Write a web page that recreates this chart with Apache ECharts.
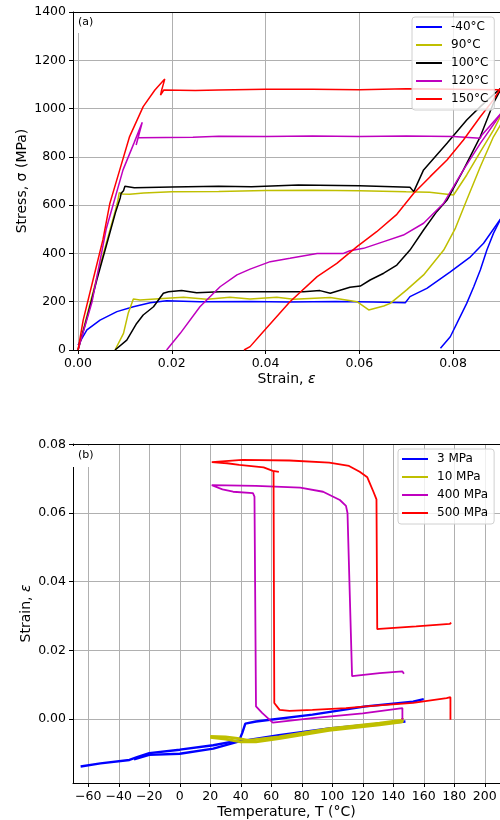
<!DOCTYPE html>
<html>
<head>
<meta charset="utf-8">
<script src="https://cdn.jsdelivr.net/npm/echarts@6/dist/echarts.min.js"></script>
<style>
  html, body { margin: 0; background: #fff; }
  #chart { width: 500px; height: 820px; }
</style>
</head>
<body>
<div id="chart"></div>
<script>
// (a) stress-strain curves, [strain, stress MPa]
const tempNames = ['-40°C', '90°C', '100°C', '120°C', '150°C'];
const tempColors = ['#0000ff', '#bfbf00', '#000000', '#bf00bf', '#ff0000'];

const m40Load = [[0,20],[0.0019,83],[0.0047,124],[0.0083,159],[0.0118,179],[0.0154,196],[0.0189,204],[0.026,200],[0.0367,201],[0.045,199],[0.055,201],[0.063,199],[0.0698,196],[0.0708,221],[0.0744,255],[0.0794,324],[0.0837,386],[0.0865,442],[0.0897,531],[0.0902,545]];
const m40Unload = [[0.0902,545],[0.0886,483],[0.0872,414],[0.0858,331],[0.0844,262],[0.0829,193],[0.0808,110],[0.0794,55],[0.0773,7]];

const t90High = [[0,0],[0.002,150],[0.004,300],[0.006,440],[0.008,580],[0.0085,620],[0.0088,652],[0.0095,646],[0.011,645],[0.014,650],[0.02,655],[0.03,657],[0.04,661],[0.05,662],[0.06,660],[0.07,655],[0.075,653],[0.0801,642],[0.0829,725],[0.0858,821],[0.0886,911],[0.0899,960],[0.0906,985]];
const t90Low = [[0.0079,0],[0.0097,69],[0.0107,152],[0.0118,211],[0.0132,207],[0.0189,214],[0.0225,218],[0.0275,210],[0.0324,218],[0.0367,211],[0.0424,218],[0.046,210],[0.0538,217],[0.0595,200],[0.062,166],[0.0652,182],[0.0666,193],[0.0701,249],[0.0737,311],[0.078,414],[0.0805,505],[0.0829,621],[0.0858,759],[0.0886,883],[0.0899,925],[0.0906,950]];

const t100High = [[0,0],[0.002,140],[0.004,290],[0.006,430],[0.008,570],[0.009,630],[0.0092,649],[0.0097,660],[0.01,678],[0.0102,670],[0.012,672],[0.02,675],[0.03,678],[0.037,676],[0.047,683],[0.06,680],[0.0708,674],[0.0716,656],[0.0737,746],[0.0787,856],[0.0829,953],[0.0858,1008],[0.0897,1077],[0.0906,1092]];
const t100Low = [[0.0079,0],[0.0104,41],[0.0125,110],[0.0139,145],[0.0161,179],[0.0182,235],[0.0193,241],[0.0221,246],[0.0253,237],[0.0303,241],[0.0367,241],[0.0481,241],[0.0516,246],[0.0538,235],[0.058,260],[0.0602,265],[0.0623,290],[0.0652,318],[0.068,352],[0.0708,414],[0.0737,497],[0.0765,573],[0.0787,621],[0.0822,746],[0.0858,884],[0.0886,1022],[0.0897,1063],[0.0906,1090]];

const t120High = [[0,0],[0.003,200],[0.006,500],[0.0096,746],[0.012,860],[0.0137,943],[0.0124,849],[0.0128,879],[0.0245,881],[0.03,885],[0.04,884],[0.05,886],[0.06,884],[0.07,886],[0.08,884],[0.0858,877],[0.0861,890],[0.0899,973],[0.0906,990]];
const t120Low = [[0.0189,0],[0.0218,69],[0.026,179],[0.0303,262],[0.0339,311],[0.0367,335],[0.041,366],[0.0452,380],[0.051,400],[0.0566,400],[0.058,411],[0.0609,421],[0.0652,449],[0.0694,476],[0.0737,525],[0.078,608],[0.0822,746],[0.0858,856],[0.0893,953],[0.0906,990]];

const t150High = [[0,0],[0.0011,124],[0.0032,290],[0.0053,456],[0.0068,608],[0.0089,746],[0.011,884],[0.0139,1008],[0.0164,1077],[0.0185,1122],[0.0178,1074],[0.0176,1056],[0.0183,1077],[0.025,1075],[0.03,1077],[0.04,1080],[0.05,1080],[0.06,1078],[0.07,1082],[0.08,1080],[0.09,1078]];
const t150Low = [[0.0354,0],[0.0367,14],[0.0395,76],[0.0452,200],[0.051,304],[0.0552,359],[0.0595,428],[0.0637,490],[0.068,562],[0.0716,649],[0.0751,718],[0.0787,787],[0.0822,870],[0.0858,966],[0.0886,1036],[0.0899,1077],[0.0906,1092]];

// (b) strain-temperature curves, [T °C, strain]
const loadNames = ['3 MPa', '10 MPa', '400 MPa', '500 MPa'];
const loadColors = ['#0000ff', '#bfbf00', '#bf00bf', '#ff0000'];

const p3Upper = [[-65,-0.0138],[-52,-0.0129],[-33,-0.0119],[-28,-0.0111],[-20,-0.0099],[0,-0.0089],[22,-0.0076],[39,-0.0062],[41,-0.004],[43,-0.0013],[50,-0.0007],[87,0.0013],[122,0.0037],[153,0.0051],[160,0.0058]];
const p3Lower = [[-30,-0.0117],[-20,-0.0104],[0,-0.0101],[22,-0.0086],[39,-0.0065],[65,-0.0047],[98,-0.0027],[131,-0.0013],[148,-0.0007]];

const p10Upper = [[20,-0.005],[30,-0.0052],[38,-0.0056],[45,-0.0062],[65,-0.0052],[98,-0.0028],[131,-0.0012],[146,-0.0003]];
const p10Lower = [[20,-0.0053],[30,-0.0058],[40,-0.0066],[50,-0.0066],[65,-0.0057],[98,-0.0033],[131,-0.0017],[146,-0.0008],[146,0.0003]];

const p400 = [[147,0.0132],[146,0.0139],[131,0.0134],[113,0.0125],[112,0.0124],[110,0.06],[109,0.0621],[105,0.0638],[94,0.0662],[79,0.0674],[50,0.0679],[21,0.0681],[28,0.0669],[35,0.0662],[48,0.0658],[49,0.0648],[50,0.0037],[54,0.0018],[59,-0.0002],[61,-0.001],[87,0.0003],[120,0.0017],[146,0.0032],[146,-0.0002]];

const p500Upper = [[65,0.072],[61,0.0723],[55,0.0733],[39,0.074],[31,0.0745],[21,0.0748],[41,0.0755],[72,0.0753],[98,0.0747],[111,0.0737],[118,0.072],[123,0.0704],[127,0.0662],[129,0.064],[129.5,0.0262],[131,0.0263],[155,0.027],[177,0.0277],[178,0.0281]];
const p500Lower = [[61.5,0.0723],[62,0.0047],[65.5,0.0027],[72,0.0024],[87,0.0027],[109,0.0032],[122,0.0037],[153,0.0047],[175,0.0061],[177.5,0.0064],[177.5,-0.0002]];

const strainTicksA = [0, 0.02, 0.04, 0.06, 0.08];
const tempTicksB = [-60, -40, -20, 0, 20, 40, 60, 80, 100, 120, 140, 160, 180, 200];
const strainTicksB = [0, 0.02, 0.04, 0.06, 0.08];

const FONT = 'DejaVu Sans';

function line(name, color, data, xi, yi, w) {
  return {
    name, type: 'line', data, xAxisIndex: xi, yAxisIndex: yi,
    symbol: 'none', clip: true, animation: false,
    lineStyle: { color, width: w }, itemStyle: { color }
  };
}

function spine(show) {
  return { show, onZero: false, lineStyle: { color: '#000', width: 1 } };
}

const gridLine = { show: true, lineStyle: { color: '#b0b0b0', width: 1 } };
const tickLabel = { color: '#000', fontSize: 12.5, fontFamily: FONT, margin: 7 };
const axisName = { color: '#000', fontSize: 14, fontFamily: FONT,
  rich: { i: { fontStyle: 'italic', fontSize: 14, fontFamily: FONT } } };

const legendBase = {
  orient: 'vertical', icon: 'rect', itemWidth: 26, itemHeight: 2, itemGap: 4,
  padding: [3, 6, 4, 4], backgroundColor: 'rgba(255,255,255,0.8)',
  borderColor: '#d0d0d0', borderWidth: 1, borderRadius: 3,
  textStyle: { color: '#000', fontSize: 12, fontFamily: FONT, lineHeight: 14, padding: [0, 0, 0, 4] }
};

const series = [
  line(tempNames[0], tempColors[0], m40Load, 0, 0, 1.5),
  line(tempNames[0], tempColors[0], m40Unload, 0, 0, 1.5),
  line(tempNames[1], tempColors[1], t90High, 0, 0, 1.5),
  line(tempNames[1], tempColors[1], t90Low, 0, 0, 1.5),
  line(tempNames[2], tempColors[2], t100High, 0, 0, 1.5),
  line(tempNames[2], tempColors[2], t100Low, 0, 0, 1.5),
  line(tempNames[3], tempColors[3], t120High, 0, 0, 1.5),
  line(tempNames[3], tempColors[3], t120Low, 0, 0, 1.5),
  line(tempNames[4], tempColors[4], t150High, 0, 0, 1.5),
  line(tempNames[4], tempColors[4], t150Low, 0, 0, 1.5),
  line(loadNames[0], loadColors[0], p3Upper, 2, 1, 2.4),
  line(loadNames[0], loadColors[0], p3Lower, 2, 1, 2.4),
  line(loadNames[1], loadColors[1], p10Upper, 2, 1, 2.8),
  line(loadNames[1], loadColors[1], p10Lower, 2, 1, 2.8),
  line(loadNames[2], loadColors[2], p400, 2, 1, 1.8),
  line(loadNames[3], loadColors[3], p500Upper, 2, 1, 1.8),
  line(loadNames[3], loadColors[3], p500Lower, 2, 1, 1.8)
];

const chart = echarts.init(document.getElementById('chart'), null, { renderer: 'canvas' });
chart.setOption({
  backgroundColor: '#fff',
  animation: false,
  textStyle: { fontFamily: FONT },
  title: [
    { text: '(a)', left: 74, top: 13, padding: [4, 4, 5, 4], backgroundColor: '#fff',
      textStyle: { fontSize: 11, fontWeight: 'normal', color: '#000', fontFamily: FONT } },
    { text: '(b)', left: 71, top: 446, padding: [4, 4, 6, 7], backgroundColor: '#fff',
      textStyle: { fontSize: 11, fontWeight: 'normal', color: '#000', fontFamily: FONT } }
  ],
  legend: [
    Object.assign({}, legendBase, { data: tempNames, left: 412, top: 17 }),
    Object.assign({}, legendBase, { data: loadNames, left: 398, top: 449 })
  ],
  grid: [
    { left: 73, right: 0, top: 12, height: 338 },
    { left: 73, right: 0, top: 444, height: 339 }
  ],
  xAxis: [
    { type: 'value', gridIndex: 0, position: 'bottom', min: -0.00107, max: 0.09,
      name: 'Strain, {i|ε}', nameLocation: 'middle', nameGap: 22, nameMoveOverlap: false, nameTextStyle: axisName,
      axisLine: spine(true), axisTick: { show: true, length: 4, customValues: strainTicksA, lineStyle: { color: '#000' } },
      axisLabel: Object.assign({}, tickLabel, { customValues: strainTicksA, formatter: v => v.toFixed(2) }),
      splitLine: gridLine },
    { type: 'value', gridIndex: 0, position: 'top', min: -0.00107, max: 0.09,
      axisLine: spine(true), axisTick: { show: false }, axisLabel: { show: false }, splitLine: { show: false } },
    { type: 'value', gridIndex: 1, position: 'bottom', min: -70, max: 210,
      name: 'Temperature, T (°C)', nameLocation: 'middle', nameGap: 22, nameMoveOverlap: false, nameTextStyle: axisName,
      axisLine: spine(true), axisTick: { show: true, length: 4, customValues: tempTicksB, lineStyle: { color: '#000' } },
      axisLabel: Object.assign({}, tickLabel, { customValues: tempTicksB, formatter: v => String(v).replace('-', '\u2212') }),
      splitLine: gridLine },
    { type: 'value', gridIndex: 1, position: 'top', min: -70, max: 210,
      axisLine: spine(true), axisTick: { show: false }, axisLabel: { show: false }, splitLine: { show: false } }
  ],
  yAxis: [
    { type: 'value', gridIndex: 0, min: 0, max: 1400, interval: 200,
      name: 'Stress, σ (MPa)', nameLocation: 'middle', nameGap: 44, nameMoveOverlap: false, nameTextStyle: axisName,
      axisLine: spine(true), axisTick: { show: true, length: 4, lineStyle: { color: '#000' } },
      axisLabel: Object.assign({}, tickLabel, { formatter: v => String(v) }), splitLine: gridLine },
    { type: 'value', gridIndex: 1, min: -0.0186, max: 0.0801,
      name: 'Strain, {i|ε}', nameLocation: 'middle', nameGap: 40, nameMoveOverlap: false, nameTextStyle: axisName,
      axisLine: spine(true), axisTick: { show: true, length: 4, customValues: strainTicksB, lineStyle: { color: '#000' } },
      axisLabel: Object.assign({}, tickLabel, { customValues: strainTicksB, formatter: v => v.toFixed(2) }),
      splitLine: gridLine }
  ],
  series
});
</script>
</body>
</html>
